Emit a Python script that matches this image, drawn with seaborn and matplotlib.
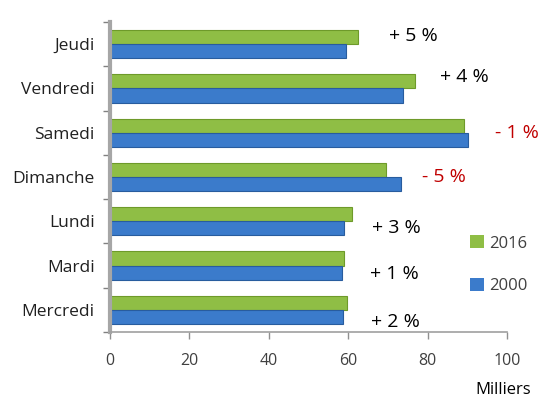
import pandas as pd
import matplotlib
matplotlib.use('Agg')
import matplotlib.pyplot as plt
import seaborn as sns

# Fréquentation par jour (milliers), 2000 vs 2016
days = ['Jeudi', 'Vendredi', 'Samedi', 'Dimanche', 'Lundi', 'Mardi', 'Mercredi']
val_2000 = [59.5, 73.8, 90.2, 73.3, 59.0, 58.3, 58.6]
val_2016 = [62.5, 76.8, 89.2, 69.5, 61.0, 58.9, 59.8]
changes = ['+ 5 %', '+ 4 %', '- 1 %', '- 5 %', '+ 3 %', '+ 1 %', '+ 2 %']
x_ticks = [0, 20, 40, 60, 80, 100]

df = pd.DataFrame({
    'Jour': days * 2,
    'Valeur': val_2016 + val_2000,
    'Année': ['2016'] * len(days) + ['2000'] * len(days),
})

sns.set_style('white')
plt.rcParams['font.family'] = ['Open Sans', 'DejaVu Sans']

fig = plt.figure(figsize=(5.53, 4.01), dpi=100)
ax = fig.add_axes([0.199, 0.172, 0.718, 0.773])

sns.barplot(data=df, y='Jour', x='Valeur', hue='Année', order=days,
            hue_order=['2016', '2000'], orient='h', width=0.64, saturation=1,
            palette={'2016': '#8FBE45', '2000': '#3B7BCB'},
            edgecolor=None, linewidth=0, ax=ax)

# darker edge to hint the bevelled bars
for patch, col in zip(ax.patches, ['#6E9A2A'] * 7 + ['#285C9E'] * 7):
    patch.set_edgecolor(col)
    patch.set_linewidth(0.8)

ax.set_xlim(0, 100)
ax.set_xticks(x_ticks)
ax.set_xticklabels([str(t) for t in x_ticks], fontsize=11.5, color='#404040')
ax.set_ylim(len(days) - 0.5, -0.5)
ax.set_yticks(range(len(days)))
ax.set_yticklabels(days, fontsize=12.5, color='#202020')
ax.set_yticks([i - 0.5 for i in range(len(days) + 1)], minor=True)
ax.tick_params(axis='y', which='major', left=False, length=0, pad=11)
ax.tick_params(axis='y', which='minor', left=True, length=5, color='#808080', width=1)
ax.tick_params(axis='x', bottom=True, length=5, color='#909090', width=1, pad=10, direction='out')
ax.set_xlabel('')
ax.set_ylabel('')

for side in ['top', 'right']:
    ax.spines[side].set_visible(False)
ax.spines['left'].set_color('#A6A6A6')
ax.spines['left'].set_linewidth(3)
ax.spines['bottom'].set_color('#A0A0A0')
ax.spines['bottom'].set_linewidth(1.2)

# variation labels
offsets = [(8, 6), (4, 8), (5, 0), (1, 0), (0, -5), (5, -6), (3, -9)]
for i, (txt, off) in enumerate(zip(changes, offsets)):
    x = max(val_2000[i], val_2016[i])
    col = '#C00000' if txt.startswith('-') else 'black'
    ax.annotate(txt, xy=(x, i), xytext=(off[0] + 14, off[1]), textcoords='offset points',
                ha='left', va='center', fontsize=14, color=col)

leg = ax.legend(loc='upper left', bbox_to_anchor=(0.87, 0.36), frameon=False,
                fontsize=12, handlelength=0.8, handleheight=0.8,
                handletextpad=0.3, labelspacing=1.6)
for t in leg.get_texts():
    t.set_color('#404040')

fig.text(0.96, 0.008, 'Milliers', ha='right', va='bottom', fontsize=12, color='black')

plt.savefig('out.png', dpi=100)
